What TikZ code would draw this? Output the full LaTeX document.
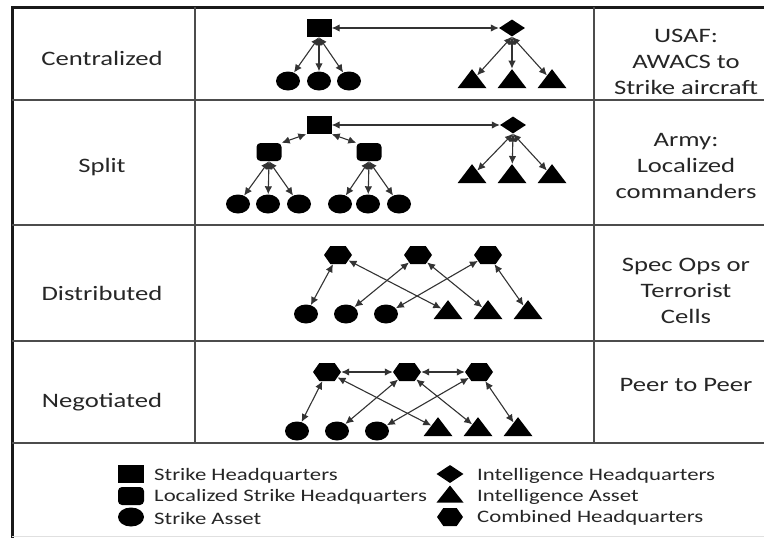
\documentclass[tikz,border=0pt]{standalone}
\usepackage{fontspec}
\setmainfont{Carlito}[FakeStretch=1.3]
\usetikzlibrary{shapes.geometric,shapes.symbols,arrows.meta}

\begin{document}
\begin{tikzpicture}[x=1pt, y=-1pt, >={Latex[length=8pt,width=7.5pt]},
  link/.style={<->, draw=black!80, line width=1.1pt},
  shq/.style={rectangle, fill=black, minimum width=25pt, minimum height=18pt, inner sep=0pt},
  lhq/.style={shq, rounded corners=4pt},
  sasset/.style={ellipse, fill=black, minimum width=24pt, minimum height=19pt, inner sep=0pt},
  ihq/.style={diamond, fill=black, minimum width=26pt, minimum height=17pt, inner sep=0pt},
  iasset/.style={isosceles triangle, isosceles triangle stretches, shape border rotate=90, fill=black, minimum width=29pt, minimum height=19pt, inner sep=0pt},
  chq/.style={signal, signal to=east and west, signal pointer angle=110, fill=black, minimum width=28pt, minimum height=18pt, inner sep=0pt},
  grid/.style={draw=black!70, line width=1.5pt},
  lbl/.style={text=black!85, font=\fontsize{20.5}{26}\selectfont, align=center},
  key/.style={text=black!85, font=\fontsize{17.5}{20}\selectfont, anchor=west, inner sep=0pt}]
\useasboundingbox (0,0) rectangle (764,538);
% table
\draw[line width=3pt, black!90] (12,538) -- (12,7) -- (764,7);
\foreach \y in {100,225,341,443} \draw[grid] (12,\y) -- (764,\y);
\draw[grid] (195,7) -- (195,443) (594,7) -- (594,443);
\draw[black!12, line width=1pt] (12,536) -- (764,536);
\node[lbl] (cent) at (102,58) {Centralized};
\node[lbl] (split) at (102,167) {Split};
\node[lbl] (dist) at (102,293) {Distributed};
\node[lbl] (nego) at (102,402) {Negotiated};
\node[lbl] (usaf) at (686,62) {USAF:\\AWACS to\\Strike aircraft};
\node[lbl] (army) at (686,166) {Army:\\Localized\\commanders};
\node[lbl] (spec) at (686,291) {Spec Ops or\\Terrorist\\Cells};
\node[lbl] (peer) at (686,385) {Peer to Peer};
% centralized
\node[shq] (s1) at (319,28) {};
\node[ihq] (i1) at (512,28) {};
\node[sasset] (s1a) at (288,81) {};
\node[sasset] (s1b) at (319,81) {};
\node[sasset] (s1c) at (349,81) {};
\node[iasset] (i1a) at (472,81) {};
\node[iasset] (i1b) at (512,81) {};
\node[iasset] (i1c) at (552,81) {};
\draw[link] (s1.east) -- (i1.west);
\foreach \n in {s1a,s1b,s1c} \draw[link] (s1.south) -- (\n);
\foreach \n in {i1a,i1b,i1c} \draw[link] (i1.south) -- (\n);
% split
\node[shq] (s2) at (319,125) {};
\node[ihq] (i2) at (513,125) {};
\node[lhq] (l2a) at (269,152) {};
\node[lhq] (l2b) at (369,152) {};
\foreach \x [count=\k] in {238,268,299,340,368,399} \node[sasset] (s2\k) at (\x,204) {};
\node[iasset] (i2a) at (472,176) {};
\node[iasset] (i2b) at (512,176) {};
\node[iasset] (i2c) at (552,176) {};
\draw[link] (s2.east) -- (i2.west);
\draw[link] (s2.south west) -- (l2a.north east);
\draw[link] (s2.south east) -- (l2b.north west);
\foreach \n in {s21,s22,s23} \draw[link] (l2a.south) -- (\n);
\foreach \n in {s24,s25,s26} \draw[link] (l2b.south) -- (\n);
\foreach \n in {i2a,i2b,i2c} \draw[link] (i2.south) -- (\n);
% distributed
\node[chq] (h3a) at (338,255) {};
\node[chq] (h3b) at (418,255) {};
\node[chq] (h3c) at (488,255) {};
\node[sasset] (s3a) at (306,314) {};
\node[sasset] (s3b) at (346,314) {};
\node[sasset] (s3c) at (386,314) {};
\node[iasset] (i3a) at (448,312) {};
\node[iasset] (i3b) at (488,312) {};
\node[iasset] (i3c) at (528,312) {};
\foreach \h/\s/\i in {h3a/s3a/i3a,h3b/s3b/i3b,h3c/s3c/i3c}{
  \draw[link] (\h) -- (\s);
  \draw[link] (\h) -- (\i);}
% negotiated
\node[chq] (h4a) at (327,372) {};
\node[chq] (h4b) at (407,372) {};
\node[chq] (h4c) at (479,372) {};
\node[sasset] (s4a) at (297,431) {};
\node[sasset] (s4b) at (337,431) {};
\node[sasset] (s4c) at (377,431) {};
\node[iasset] (i4a) at (438,429) {};
\node[iasset] (i4b) at (478,429) {};
\node[iasset] (i4c) at (518,429) {};
\draw[link] (h4a) -- (h4b);
\draw[link] (h4b) -- (h4c);
\foreach \h/\s/\i in {h4a/s4a/i4a,h4b/s4b/i4b,h4c/s4c/i4c}{
  \draw[link] (\h) -- (\s);
  \draw[link] (\h) -- (\i);}
% legend
\node[shq, minimum width=26pt] (k1) at (131,474) {};
\node[lhq, minimum width=26pt] (k2) at (131,496) {};
\node[sasset, minimum width=26pt] (k3) at (131,517) {};
\node[ihq, minimum width=27pt, minimum height=18pt] (k4) at (450,474) {};
\node[iasset, minimum width=27pt, minimum height=17pt] (k5) at (450,496) {};
\node[chq, minimum width=26pt, minimum height=18pt] (k6) at (450,517) {};
\node[key] (k1t) at (154,476) {Strike Headquarters};
\node[key] (k2t) at (154,497) {Localized Strike Headquarters};
\node[key] (k3t) at (154,518) {Strike Asset};
\node[key] (k4t) at (477,476) {Intelligence Headquarters};
\node[key] (k5t) at (477,497) {Intelligence Asset};
\node[key] (k6t) at (477,518) {Combined Headquarters};
\end{tikzpicture}
\end{document}
